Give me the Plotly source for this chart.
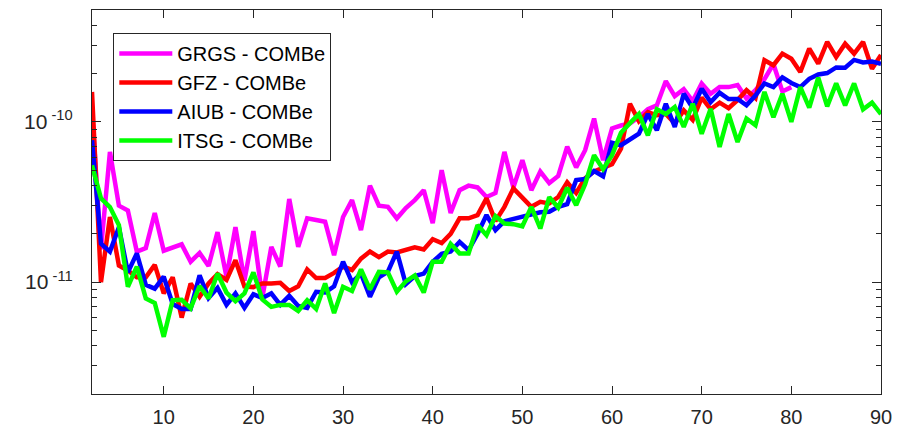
import plotly.graph_objects as go

degree = list(range(2, 91))
degree_grgs = list(range(2, 81))

grgs = [1.17e-10, 1.6e-11, 6.5e-11, 3.0e-11, 2.8e-11, 1.55e-11, 1.63e-11, 2.7e-11, 1.57e-11, 1.63e-11,
        1.72e-11, 1.34e-11, 1.52e-11, 1.26e-11, 2.05e-11, 1.08e-11, 2.2e-11, 1.02e-11, 2.08e-11, 8.0e-12,
        1.66e-11, 1.25e-11, 3.3e-11, 1.66e-11, 2.5e-11, 2.44e-11, 2.38e-11, 1.47e-11, 2.55e-11, 3.25e-11,
        2.11e-11, 4.0e-11, 3.0e-11, 2.95e-11, 2.5e-11, 2.9e-11, 3.25e-11, 3.75e-11, 2.33e-11, 5.0e-11,
        2.7e-11, 3.75e-11, 4.0e-11, 3.9e-11, 3.4e-11, 3.6e-11, 6.5e-11, 3.9e-11, 5.77e-11, 3.75e-11,
        4.9e-11, 4.15e-11, 4.6e-11, 7.0e-11, 5.2e-11, 6.66e-11, 1.05e-10, 5.77e-11, 9.1e-11, 9.5e-11,
        9.8e-11, 1.07e-10, 1.2e-10, 1.27e-10, 1.8e-10, 1.45e-10, 1.6e-10, 1.35e-10, 1.74e-10, 1.5e-10,
        1.65e-10, 1.65e-10, 1.7e-10, 1.4e-10, 1.58e-10, 1.85e-10, 2.3e-10, 1.55e-10, 1.65e-10]

gfz = [1.54e-10, 1.0e-11, 2.55e-11, 1.27e-11, 1.18e-11, 1.07e-11, 1.07e-11, 1.28e-11, 8.5e-12, 1.07e-11,
       6.0e-12, 9.8e-12, 8.1e-12, 9.8e-12, 1.12e-11, 1.03e-11, 1.37e-11, 9.4e-12, 9.3e-12, 9.8e-12,
       9.8e-12, 9.9e-12, 8.8e-12, 9.4e-12, 1.2e-11, 1.06e-11, 1.06e-11, 1.14e-11, 1.25e-11, 1.19e-11,
       1.4e-11, 1.55e-11, 1.43e-11, 1.55e-11, 1.53e-11, 1.6e-11, 1.65e-11, 1.6e-11, 1.85e-11, 1.75e-11,
       2.0e-11, 2.5e-11, 2.5e-11, 2.62e-11, 3.33e-11, 2.4e-11, 2.95e-11, 3.85e-11, 3.33e-11, 2.95e-11,
       3.17e-11, 3.1e-11, 3.4e-11, 4.2e-11, 3.6e-11, 4.45e-11, 4.9e-11, 5.2e-11, 5.45e-11, 6.8e-11,
       1.3e-10, 1.01e-10, 1.15e-10, 1.1e-10, 1.12e-10, 9.8e-11, 1.18e-10, 1.03e-10, 1.42e-10, 1.2e-10,
       1.32e-10, 1.22e-10, 1.37e-10, 1.58e-10, 1.41e-10, 2.43e-10, 2.26e-10, 2.67e-10, 2.48e-10, 2.05e-10,
       2.87e-10, 2.31e-10, 3.16e-10, 2.54e-10, 3.08e-10, 2.67e-10, 3.16e-10, 2.15e-10, 2.62e-10]

aiub = [7.69e-11, 1.74e-11, 1.55e-11, 2.2e-11, 1.15e-11, 1.51e-11, 9.6e-12, 9.1e-12, 1.08e-11, 7.3e-12,
        6.8e-12, 6.8e-12, 1.1e-11, 7.95e-12, 9.2e-12, 7.2e-12, 8.5e-12, 6.9e-12, 8.4e-12, 7.95e-12,
        8.5e-12, 7.2e-12, 8.2e-12, 7.1e-12, 6.9e-12, 8.7e-12, 8.6e-12, 9.4e-12, 1.34e-11, 1.0e-11,
        1.13e-11, 8.1e-12, 1.07e-11, 1.16e-11, 1.55e-11, 9.7e-12, 1.09e-11, 1.13e-11, 1.34e-11, 1.5e-11,
        1.55e-11, 1.78e-11, 1.58e-11, 2.0e-11, 2.62e-11, 2.11e-11, 2.4e-11, 2.47e-11, 2.58e-11, 2.66e-11,
        2.73e-11, 2.75e-11, 2.95e-11, 3.07e-11, 4.33e-11, 4.4e-11, 4.93e-11, 4.58e-11, 7.4e-11, 7.15e-11,
        7.8e-11, 8.45e-11, 1.12e-10, 8.87e-11, 1.3e-10, 9.3e-11, 1.5e-10, 1.22e-10, 1.61e-10, 1.33e-10,
        1.52e-10, 1.39e-10, 1.39e-10, 1.27e-10, 1.46e-10, 1.74e-10, 1.65e-10, 1.9e-10, 1.75e-10, 1.65e-10,
        1.86e-10, 1.98e-10, 2.02e-10, 2.19e-10, 2.18e-10, 2.44e-10, 2.35e-10, 2.38e-10, 2.31e-10]

itsg = [5.36e-11, 3.33e-11, 2.94e-11, 2.27e-11, 9.35e-12, 1.25e-11, 7.9e-12, 7.4e-12, 4.55e-12, 7.7e-12,
        7.75e-12, 6.85e-12, 9.45e-12, 7.9e-12, 1.13e-11, 8.6e-12, 7.6e-12, 8.5e-12, 1.15e-11, 7.8e-12,
        7.0e-12, 7.2e-12, 7.2e-12, 6.6e-12, 7.7e-12, 6.8e-12, 9.8e-12, 6.4e-12, 9.35e-12, 8.8e-12,
        1.2e-11, 9.0e-12, 1.16e-11, 1.15e-11, 8.7e-12, 1.01e-11, 1.1e-11, 8.6e-12, 1.34e-11, 1.34e-11,
        1.73e-11, 1.51e-11, 1.51e-11, 2.27e-11, 1.96e-11, 2.58e-11, 2.32e-11, 2.3e-11, 2.23e-11, 2.95e-11,
        2.16e-11, 3.39e-11, 2.92e-11, 3.88e-11, 3.02e-11, 4.09e-11, 6.2e-11, 5.07e-11, 6.2e-11, 8.55e-11,
        9.83e-11, 1.12e-10, 8.25e-11, 1.2e-10, 1.12e-10, 1.24e-10, 9.32e-11, 1.3e-10, 8.43e-11, 1.21e-10,
        6.98e-11, 1.12e-10, 7.5e-11, 1.05e-10, 9.54e-11, 1.54e-10, 1.07e-10, 1.5e-10, 1.0e-10, 1.65e-10,
        1.23e-10, 1.89e-10, 1.25e-10, 1.74e-10, 1.27e-10, 1.74e-10, 1.2e-10, 1.32e-10, 1.12e-10]

names = ["GRGS - COMBe", "GFZ - COMBe", "AIUB - COMBe", "ITSG - COMBe"]
colors = ["#FF00FF", "#FF0000", "#0000FF", "#00FF00"]
xticks = [10, 20, 30, 40, 50, 60, 70, 80, 90]
yticks = [1e-11, 1e-10]
yticktext = ["10<sup> -11</sup>", "10<sup> -10</sup>"]

fig = go.Figure()
for xs, ys, nm, c in zip([degree_grgs, degree, degree, degree], [grgs, gfz, aiub, itsg], names, colors):
    fig.add_trace(go.Scatter(x=xs, y=ys, mode="lines", name=nm,
                             line=dict(color=c, width=4.5)))

axcol = "#262626"
fig.update_layout(
    width=900, height=429,
    margin=dict(l=83.5, r=27.3, t=2, b=42.7),
    paper_bgcolor="white", plot_bgcolor="white",
    font=dict(family="Liberation Sans, Arial, sans-serif", size=21, color="#262626"),
    legend=dict(x=0.027, y=0.94, xanchor="left", yanchor="top",
                bordercolor=axcol, borderwidth=1, bgcolor="white", itemwidth=53,
                font=dict(size=20, color="black"), tracegroupgap=0),
    xaxis=dict(range=[2, 90], tickvals=xticks, ticks="inside", ticklen=8, tickcolor=axcol,
               showline=True, linecolor=axcol, linewidth=1.3, mirror="ticks",
               showgrid=False, zeroline=False, ticklabelstandoff=5,
               tickfont=dict(size=20)),
    yaxis=dict(type="log", range=[-11.699, -9.301], tickvals=yticks, ticktext=yticktext,
               ticks="inside", ticklen=9, tickcolor=axcol,
               showline=True, linecolor=axcol, linewidth=1.3, mirror="ticks",
               showgrid=False, zeroline=False, ticklabelstandoff=14,
               minor=dict(ticks="inside", ticklen=5, tickcolor=axcol, dtick="D1", showgrid=False)),
)

fig.write_html("out.html")
